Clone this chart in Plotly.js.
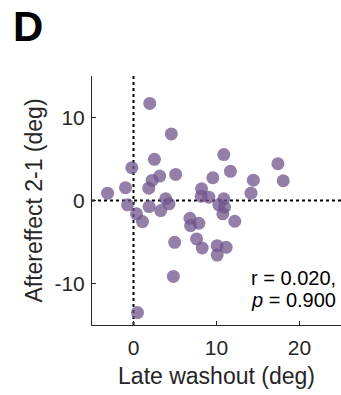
<!DOCTYPE html>
<html>
<head>
<meta charset="utf-8">
<script src="https://cdn.plot.ly/plotly-3.0.1.min.js"></script>
<style>html,body{margin:0;padding:0;background:#fff;}#chart{width:341px;height:395px;}</style>
</head>
<body>
<div id="chart"></div>
<script>
const lateWashout = [1.96, 4.56, 10.88, 17.4, 18.04, 2.52, -0.2, 3.16, 5.08, 2.24, 1.84, -0.96, -3.12, 9.56, 11.68, 14.44, 14.16, 8.2,
  -0.72, 1.88, 3.88, 4.28, 3.28, 0.36, 1.08, 8.16, 9.08, 10.88, 10.28, 10.96, 10.76, 12.2, 6.8, 7.88, 6.88, 7.6, 4.96, 8.28, 10.08, 11.16, 10.08, 4.8, 0.48];
const aftereffect = [11.69, 8.02, 5.53, 4.44, 2.38, 4.96, 3.95, 2.94, 3.14, 2.42, 1.49, 1.54, 0.88, 2.74, 3.51, 2.45, 0.88, 1.41,
  -0.52, -0.73, 0.2, -0.4, -1.21, -1.61, -2.54, 0.52, 0.4, 0.2, -0.52, -0.81, -1.61, -2.5, -2.14, -2.74, -3.02, -4.63, -5.04, -5.72, -5.44, -5.64, -6.57, -9.15, -13.5];
const xTicks = [0, 10, 20];
const yTicks = [-10, 0, 10];
const statLines = ['r = 0.020,', '<i>p</i> = 0.900'];

const textColor = '#262626';
const fam = '"Liberation Sans", Arial, sans-serif';
const tickFont = {family: fam, size: 21, color: textColor};
const titleFont = {family: fam, size: 23, color: textColor};

const trace = {
  x: lateWashout, y: aftereffect, type: 'scatter', mode: 'markers',
  marker: {size: 13, color: 'rgb(112,84,140)', opacity: 0.75, line: {width: 0}},
  hoverinfo: 'skip'
};

const layout = {
  width: 341, height: 395,
  margin: {l: 92, r: 0, t: 76, b: 70},
  paper_bgcolor: '#fff', plot_bgcolor: '#fff',
  showlegend: false,
  font: tickFont,
  title: {text: '<b>D</b>', x: 13/341, xanchor: 'left', xref: 'container', y: 1 - 26/395, yanchor: 'middle', yref: 'container',
    font: {family: fam, size: 42, color: '#000'}},
  xaxis: {
    range: [-5, 25], tickvals: xTicks, ticktext: xTicks.map(String),
    showline: true, linecolor: textColor, linewidth: 1, mirror: false,
    ticks: 'inside', ticklen: 4, tickcolor: textColor, showgrid: false, zeroline: false,
    ticklabelstandoff: 4,
    tickfont: tickFont, title: {text: 'Late washout (deg)', font: titleFont, standoff: 9}
  },
  yaxis: {
    range: [-15, 15], tickvals: yTicks, ticktext: yTicks.map(String),
    showline: true, linecolor: textColor, linewidth: 1, mirror: false,
    ticks: 'inside', ticklen: 4, tickcolor: textColor, showgrid: false, zeroline: false,
    ticklabelstandoff: 2,
    tickfont: tickFont, title: {text: 'Aftereffect 2-1 (deg)', font: titleFont, standoff: 5}
  },
  shapes: [
    {type: 'line', xref: 'x', yref: 'paper', x0: 0, x1: 0, y0: 0, y1: 1, line: {color: '#000', width: 2, dash: 'dot'}, layer: 'below'},
    {type: 'line', xref: 'paper', yref: 'y', x0: 0, x1: 1, y0: 0, y1: 0, line: {color: '#000', width: 2, dash: 'dot'}, layer: 'below'}
  ],
  annotations: [
    {text: statLines[0], xref: 'paper', yref: 'paper', x: 0.632, y: 0.19, xanchor: 'left', yanchor: 'middle', showarrow: false, font: {family: fam, size: 20, color: '#000'}},
    {text: statLines[1], xref: 'paper', yref: 'paper', x: 0.632, y: 0.10, xanchor: 'left', yanchor: 'middle', showarrow: false, font: {family: fam, size: 20, color: '#000'}}
  ]
};

Plotly.newPlot('chart', [trace], layout, {staticPlot: true, displayModeBar: false});
</script>
</body>
</html>
